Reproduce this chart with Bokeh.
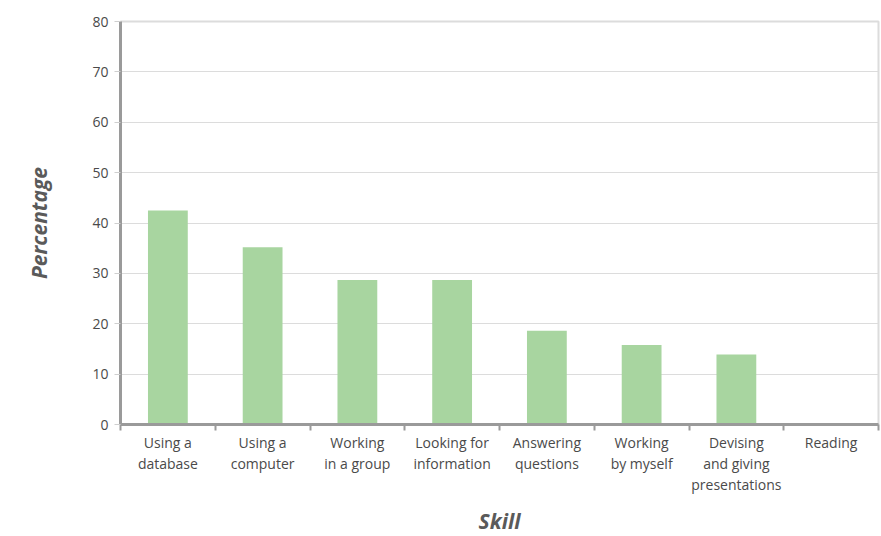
from bokeh.plotting import figure
from bokeh.models import Range1d, FixedTicker, LinearAxis, ColumnDataSource
from bokeh.embed import file_html
from bokeh.resources import INLINE

skills = ["Using a\ndatabase", "Using a\ncomputer", "Working\nin a group", "Looking for\ninformation",
          "Answering\nquestions", "Working\nby myself", "Devising\nand giving\npresentations", "Reading"]
percentages = [42.5, 35.2, 28.7, 28.7, 18.6, 15.8, 13.9, 0.0]
y_ticks = [0, 10, 20, 30, 40, 50, 60, 70, 80]

FONT = "Open Sans"
n = len(skills)
xs = [i + 0.5 for i in range(n)]
src = ColumnDataSource(dict(x=xs, top=percentages))

p = figure(frame_width=758, frame_height=403, output_backend="svg", toolbar_location=None,
           x_range=Range1d(0, n), y_range=Range1d(0, 80),
           min_border_left=120, min_border_right=3, min_border_top=21, min_border_bottom=112,
           x_axis_location=None, y_axis_location=None)
p.background_fill_color = "white"
p.border_fill_color = "white"
p.outline_line_color = "#dcdcdc"
p.outline_line_width = 2

p.vbar(x="x", top="top", width=0.42, bottom=0, source=src, fill_color="#a8d5a0", line_color=None)

# Y axis
ya = LinearAxis(ticker=FixedTicker(ticks=y_ticks), axis_label="Percentage")
ya.axis_line_color = "#9a9a9a"
ya.axis_line_width = 3
ya.major_tick_line_color = "#cfcfcf"
ya.major_tick_out = 6
ya.major_tick_in = 0
ya.minor_tick_line_color = None
ya.major_label_text_font = FONT
ya.major_label_text_font_size = "14px"
ya.major_label_text_color = "#4a4a4a"
ya.major_label_standoff = 6
ya.axis_label_text_font = FONT
ya.axis_label_text_font_size = "21px"
ya.axis_label_text_font_style = "bold italic"
ya.axis_label_text_color = "#5a5a5a"
ya.axis_label_standoff = 36
p.add_layout(ya, "left")

# X axis: boundary ticks only
bounds = list(range(n + 1))
xa = LinearAxis(ticker=FixedTicker(ticks=bounds))
xa.major_label_overrides = {b: "" for b in bounds}
xa.axis_line_color = "#9a9a9a"
xa.axis_line_width = 3
xa.major_tick_line_color = "#9a9a9a"
xa.major_tick_line_width = 2
xa.major_tick_out = 6
xa.major_tick_in = 0
xa.minor_tick_line_color = None
xa.major_label_standoff = 0
p.add_layout(xa, "below")

# X labels at category centres
xl = LinearAxis(ticker=FixedTicker(ticks=xs), axis_label="Skill")
xl.major_label_overrides = {x: s for x, s in zip(xs, skills)}
xl.axis_line_color = None
xl.major_tick_line_color = None
xl.minor_tick_line_color = None
xl.major_label_text_font = FONT
xl.major_label_text_font_size = "14px"
xl.major_label_text_color = "#4a4a4a"
xl.major_label_text_line_height = 1.13
xl.major_label_standoff = -4
xl.axis_label_text_font = FONT
xl.axis_label_text_font_size = "21px"
xl.axis_label_text_font_style = "bold italic"
xl.axis_label_text_color = "#5a5a5a"
xl.axis_label_standoff = 10
p.add_layout(xl, "below")

p.xgrid.visible = False
p.ygrid.ticker = FixedTicker(ticks=y_ticks)
p.ygrid.grid_line_color = "#dcdcdc"
p.ygrid.grid_line_width = 1

open("out.html", "w").write(file_html(p, INLINE))
